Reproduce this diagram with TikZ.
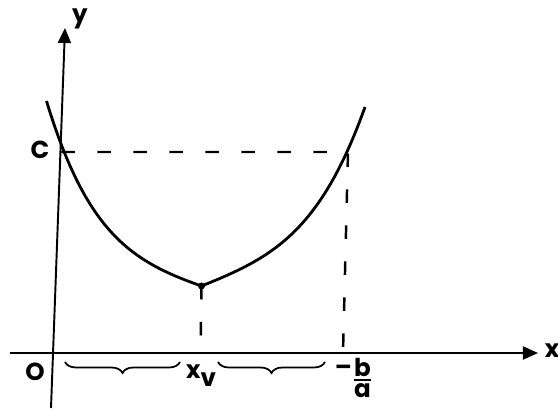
\documentclass[tikz,border=0pt]{standalone}
\usepackage{amsmath}
\usepackage{fontspec}
\setmainfont{Poppins}
\usetikzlibrary{arrows.meta,decorations.pathreplacing}
\begin{document}
\begin{tikzpicture}[font=\fontsize{14}{16}\selectfont\bfseries,
  axis/.style={line width=1.1pt,-{Triangle[length=3mm,width=2.6mm]}},
  guide/.style={line width=1.4pt,dash pattern=on 0.27cm off 0.45cm},
  bracket/.style={line width=1pt,decorate,decoration={brace,mirror,amplitude=0.22cm}}]
\useasboundingbox (-1.06,-1.14) rectangle (10.10,7.06);
\coordinate (O) at (0,0);
\coordinate (L) at (-0.13,5.04);
\coordinate (C) at (0.17,4.02);
\coordinate (V) at (2.97,1.34);
\coordinate (P) at (5.90,4.02);
\coordinate (R) at (6.24,4.92);
\coordinate (Vx) at (2.95,0);
\coordinate (Px) at (5.80,0);
\draw[axis] (-0.86,0) -- (9.70,0);
\draw[axis] (-0.04,-1.10) -- (0.24,6.50);
\draw[guide] (C) -- (P) -- (Px);
\draw[guide] (V) -- (Vx);
\draw[line width=1.6pt] (L) .. controls (0.67,2.40) and (1.57,1.83) .. (V) .. controls (4.37,1.90) and (5.34,2.40) .. (R);
\fill (V) circle (0.07);
\draw[bracket] (0.24,-0.18) -- (2.54,-0.18);
\draw[bracket] (3.30,-0.18) -- (5.44,-0.18);
\node (xlab) at (9.98,0.04) {x};
\node (ylab) at (0.54,6.68) {y};
\node (olab) at (-0.36,-0.38) {O};
\node (clab) at (-0.26,4.06) {C};
\node (xvlab) at (2.96,-0.45) {x\raisebox{-0.6ex}{v}};
\node (balab) at (6.02,-0.50) {\raisebox{0.45em}{–}$\genfrac{}{}{1.3pt}{}{\mbox{b}}{\mbox{a}}$};
\end{tikzpicture}
\end{document}
